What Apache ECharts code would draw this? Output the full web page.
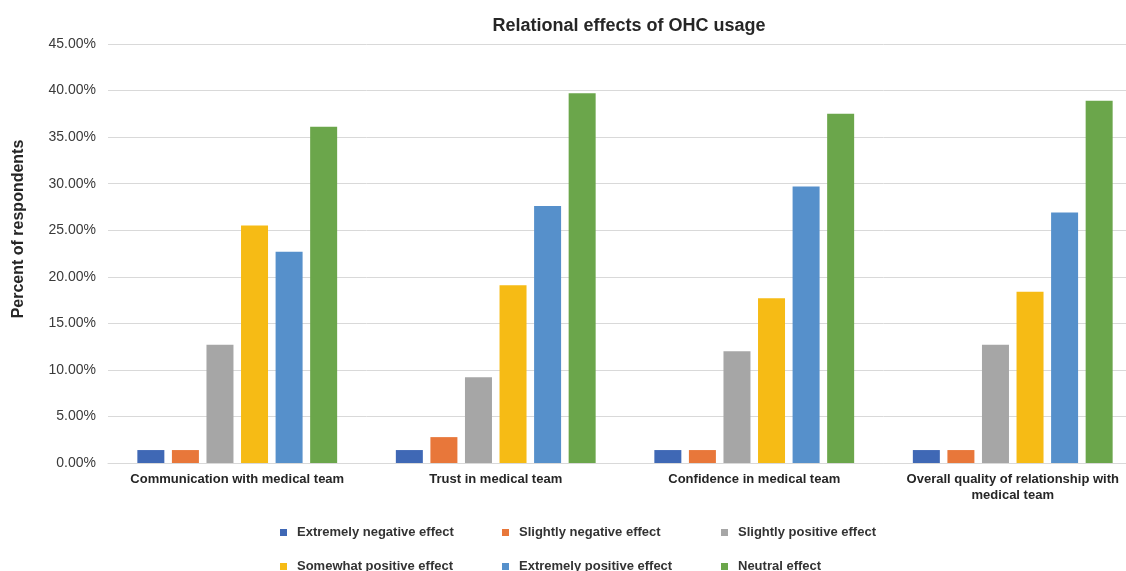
<!DOCTYPE html>
<html>
<head>
<meta charset="utf-8">
<style>
  html, body { margin: 0; padding: 0; background: #ffffff; overflow: hidden; width: 1126px; height: 571px; }
  #chart { width: 1160px; height: 571px; }
</style>
<script src="https://cdn.jsdelivr.net/npm/echarts@6/dist/echarts.min.js"></script>
</head>
<body>
<div id="chart"></div>
<script>
// Relational effects of OHC usage — percent of respondents per effect level
const categories = [
  'Communication with medical team',
  'Trust in medical team',
  'Confidence in medical team',
  'Overall quality of relationship with\nmedical team'
];
const seriesNames = [
  'Extremely negative effect',
  'Slightly negative effect',
  'Slightly positive effect',
  'Somewhat positive effect',
  'Extremely positive effect',
  'Neutral effect'
];
const extremelyNegative = [1.39, 1.39, 1.39, 1.39];
const slightlyNegative  = [1.39, 2.78, 1.39, 1.39];
const slightlyPositive  = [12.7, 9.2, 12.0, 12.7];
const somewhatPositive  = [25.5, 19.1, 17.7, 18.4];
const extremelyPositive = [22.7, 27.6, 29.7, 26.9];
const neutral           = [36.1, 39.7, 37.5, 38.9];
const yTicks = [0, 5, 10, 15, 20, 25, 30, 35, 40, 45];

const values = [extremelyNegative, slightlyNegative, slightlyPositive,
                somewhatPositive, extremelyPositive, neutral];
const colors = ['#3F68B5', '#E8773A', '#A6A6A6', '#F6BB15', '#5690CB', '#6BA64B'];
const FONT = '"Liberation Sans", Arial, Helvetica, sans-serif';

// legend laid out as a 3x2 grid of columns
const legendCols = [275, 497, 716];
const legendRows = [521, 555];
const legends = seriesNames.map((name, i) => ({
  data: [name],
  left: legendCols[i % 3],
  top: legendRows[Math.floor(i / 3)],
  icon: 'rect',
  itemWidth: 7,
  itemHeight: 7,
  itemGap: 0,
  selectedMode: false,
  textStyle: { fontFamily: FONT, fontSize: 13, fontWeight: 'bold', color: '#333333', padding: [0, 0, 0, 5] }
}));

const chart = echarts.init(document.getElementById('chart'), null, { renderer: 'canvas' });
chart.setOption({
  animation: false,
  backgroundColor: '#ffffff',
  title: {
    text: 'Relational effects of OHC usage',
    left: 624,
    textAlign: 'center',
    top: 12,
    textStyle: { fontFamily: FONT, fontSize: 18, fontWeight: 'bold', color: '#262626' }
  },
  legend: legends,
  grid: { left: 108, top: 44, width: 1034, height: 419, containLabel: false },
  xAxis: {
    type: 'category',
    data: categories,
    axisLine: { lineStyle: { color: '#D9D9D9', width: 1 } },
    axisTick: { show: false },
    axisLabel: {
      interval: 0,
      margin: 8,
      fontFamily: FONT,
      fontSize: 13,
      fontWeight: 'bold',
      color: '#262626',
      lineHeight: 16
    }
  },
  yAxis: {
    type: 'value',
    min: yTicks[0],
    max: yTicks[yTicks.length - 1],
    interval: 5,
    axisLine: { show: false },
    axisTick: { show: false },
    splitLine: { lineStyle: { color: '#D9D9D9', width: 1 } },
    axisLabel: {
      margin: 12,
      fontFamily: FONT,
      fontSize: 14,
      color: '#3A3A3A',
      formatter: v => v.toFixed(2) + '%'
    }
  },
  graphic: [{
    type: 'text',
    x: 19,
    y: 229,
    rotation: Math.PI / 2,
    style: {
      text: 'Percent of respondents',
      fontFamily: FONT,
      fontSize: 16,
      fontWeight: 'bold',
      fill: '#262626',
      align: 'center',
      verticalAlign: 'middle'
    }
  }],
  series: seriesNames.map((name, i) => ({
    name: name,
    type: 'bar',
    data: values[i],
    barWidth: 27,
    barGap: '28%',
    itemStyle: { color: colors[i] }
  }))
});
</script>
</body>
</html>
